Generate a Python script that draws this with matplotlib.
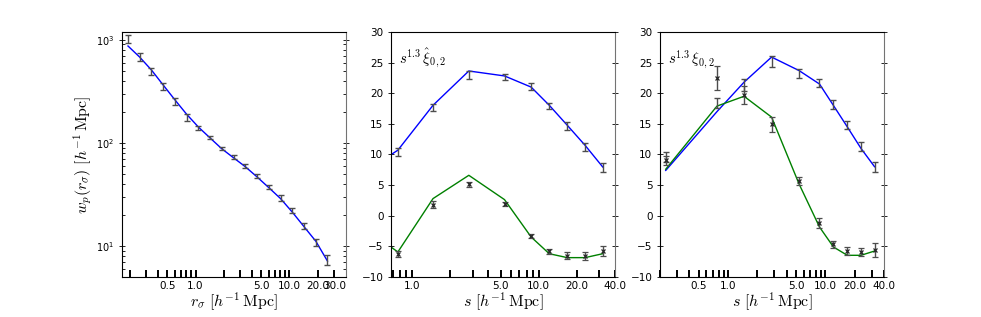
import numpy as np
import matplotlib
matplotlib.use("Agg")
import matplotlib.pyplot as plt
import matplotlib.ticker as ticker

matplotlib.rcParams.update({
    "mathtext.fontset": "cm",
    "font.size": 8,
    "xtick.labelsize": 7.5,
    "ytick.labelsize": 7.5,
})

# ── data ─────────────────────────────────────────────────────────────────────
rp = [0.191, 0.254, 0.339, 0.452, 0.603, 0.804, 1.072, 1.429, 1.905,
      2.54, 3.39, 4.52, 6.03, 8.04, 10.7, 14.3, 19.1, 25.4]
wp = [1020, 680, 497, 356, 253, 179, 141, 113, 88,
      73, 60, 48, 37.5, 29.4, 22.3, 15.8, 11.0, 7.4]
wp_err = [95, 63, 38, 27, 19, 14, 6.3, 4.3, 2.7,
          2.8, 2.3, 2.2, 1.7, 1.8, 1.4, 1.1, 0.85, 0.87]
wp_model = [870, 680, 510, 365, 262, 190, 143, 112, 88,
            72, 59, 47, 37, 29, 21.5, 15.5, 11.2, 7.2]

s = [0.229, 0.77, 1.46, 2.80, 5.36, 8.7, 12.1, 16.8, 23.2, 32.0]

# panel 2: hat-xi (data only visible from 0.77 on)
hat_mono_model = [3.6, 10.7, 18.03, 23.63, 22.82, 21.0, 18.03, 14.76, 11.5, 7.96]
hat_mono = [10.4, 17.65, 23.03, 22.65, 21.13, 17.92, 14.6, 11.17, 7.9]
hat_mono_err = [0.7, 0.55, 0.65, 0.5, 0.55, 0.55, 0.65, 0.65, 0.75]
hat_quad_model = [2.0, -5.92, 2.8, 6.6, 2.63, -3.47, -6.2, -6.84, -6.84, -6.2]
hat_quad = [-6.2, 1.8, 5.13, 1.97, -3.36, -5.8, -6.5, -6.57, -5.8]
hat_quad_err = [0.5, 0.6, 0.4, 0.35, 0.35, 0.45, 0.55, 0.65, 0.8]

# panel 3: xi
mono_model = [7.4, 17.0, 21.8, 25.9, 23.7, 21.5, 18.0, 14.5, 11.0, 8.0]
mono = [9.6, 18.4, 21.3, 25.1, 23.2, 21.6, 18.2, 14.8, 11.3, 7.96]
mono_err = [0.75, 0.75, 1.0, 0.9, 0.7, 0.65, 0.7, 0.7, 0.7, 0.8]
quad_model = [7.6, 17.9, 19.5, 16.1, 5.2, -1.84, -5.1, -6.46, -6.46, -5.76]
quad = [9.05, 22.5, 19.7, 14.9, 5.67, -1.18, -4.67, -5.8, -5.9, -5.65]
quad_err = [0.75, 2.0, 1.4, 1.2, 0.7, 0.75, 0.55, 0.65, 0.7, 1.15]

ticks_p1 = [0.2, 0.3, 0.4, 0.5, 0.6, 0.7, 0.8, 0.9, 1, 2, 3, 4, 5, 6, 7, 8, 9, 10, 20, 30]
ticks_p2 = [0.7, 0.8, 0.9, 1, 2, 3, 4, 5, 6, 7, 8, 9, 10, 20, 30, 40]
ticks_p3 = [0.2, 0.3, 0.4, 0.5, 0.6, 0.7, 0.8, 0.9, 1, 2, 3, 4, 5, 6, 7, 8, 9, 10, 20, 30, 40]
labelled_p1 = [0.5, 1, 5, 10, 20, 30]
labelled_p2 = [1, 5, 10, 20, 40]
labelled_p3 = [0.5, 1, 5, 10, 20, 40]

ERR = dict(fmt="none", ecolor="0.3", elinewidth=1.0, capsize=2.2, capthick=1.0)
XERR = dict(fmt="x", color="0.15", ms=3.5, mew=0.9, ecolor="0.3",
            elinewidth=1.0, capsize=2.2, capthick=1.0)
XLAB = r"$s\ [h^{-1}\,\mathrm{Mpc}]$"
LAB_FS = 11.5


def style_x(ax, ticks, labelled):
    ax.set_xscale("log")
    ax.xaxis.set_major_locator(ticker.FixedLocator(ticks))
    ax.xaxis.set_major_formatter(ticker.FixedFormatter(
        ["%.1f" % t if t in labelled else "" for t in ticks]))
    ax.xaxis.set_minor_locator(ticker.NullLocator())
    ax.tick_params(axis="x", which="major", direction="in", length=5,
                   width=1.4, top=False, pad=3)
    ax.tick_params(axis="y", which="both", left=True, right=True, width=0.6)
    ax.tick_params(axis="y", which="major", direction="inout", length=4)
    ax.tick_params(axis="y", which="minor", direction="in", length=2.5)
    ax.spines["right"].set_color("0.45")


fig = plt.figure(figsize=(9.81, 3.17), dpi=100)
W, H, B = 0.2283, 0.773, 0.1262
ax1 = fig.add_axes([0.1244, B, W, H])
ax2 = fig.add_axes([0.3986, B, W, H])
ax3 = fig.add_axes([0.6728, B, W, H])

# ── panel 1: w_p ─────────────────────────────────────────────────────────────
ax1.set_yscale("log")
ax1.plot(rp, wp_model, color="b", lw=1.0)
ax1.errorbar(rp, wp, yerr=wp_err, **ERR)
style_x(ax1, ticks_p1, labelled_p1)
ax1.tick_params(axis="y", labelsize=7)
ax1.set_xlim(0.165, 40)
ax1.set_ylim(5.05, 1190)
ax1.set_xlabel(r"$r_\sigma\ [h^{-1}\,\mathrm{Mpc}]$", fontsize=LAB_FS, labelpad=0)
ax1.set_ylabel(r"$w_p(r_\sigma)\ [h^{-1}\,\mathrm{Mpc}]$", fontsize=LAB_FS, labelpad=1)

# ── panel 2: hat xi ──────────────────────────────────────────────────────────
ax2.plot(s, hat_mono_model, color="b", lw=1.0)
ax2.plot(s, hat_quad_model, color="g", lw=1.0)
ax2.errorbar(s[1:], hat_mono, yerr=hat_mono_err, **ERR)
ax2.errorbar(s[1:], hat_quad, yerr=hat_quad_err, **XERR)
style_x(ax2, ticks_p2, labelled_p2)
ax2.set_xlim(0.68, 40)
ax2.set_ylim(-10, 30)
ax2.set_xlabel(XLAB, fontsize=LAB_FS, labelpad=0)
ax2.text(0.035, 0.873, r"$s^{1.3}\,\hat{\xi}_{0,2}$", transform=ax2.transAxes,
         fontsize=10.5, va="baseline", ha="left")

# ── panel 3: xi ──────────────────────────────────────────────────────────────
ax3.plot(s, mono_model, color="b", lw=1.0)
ax3.plot(s, quad_model, color="g", lw=1.0)
ax3.errorbar(s, mono, yerr=mono_err, **ERR)
ax3.errorbar(s, quad, yerr=quad_err, **XERR)
style_x(ax3, ticks_p3, labelled_p3)
ax3.set_xlim(0.2, 40)
ax3.set_ylim(-10, 30)
ax3.set_xlabel(XLAB, fontsize=LAB_FS, labelpad=0)
ax3.text(0.035, 0.873, r"$s^{1.3}\,\xi_{0,2}$", transform=ax3.transAxes,
         fontsize=10.5, va="baseline", ha="left")

fig.savefig("out.png", dpi=100)
